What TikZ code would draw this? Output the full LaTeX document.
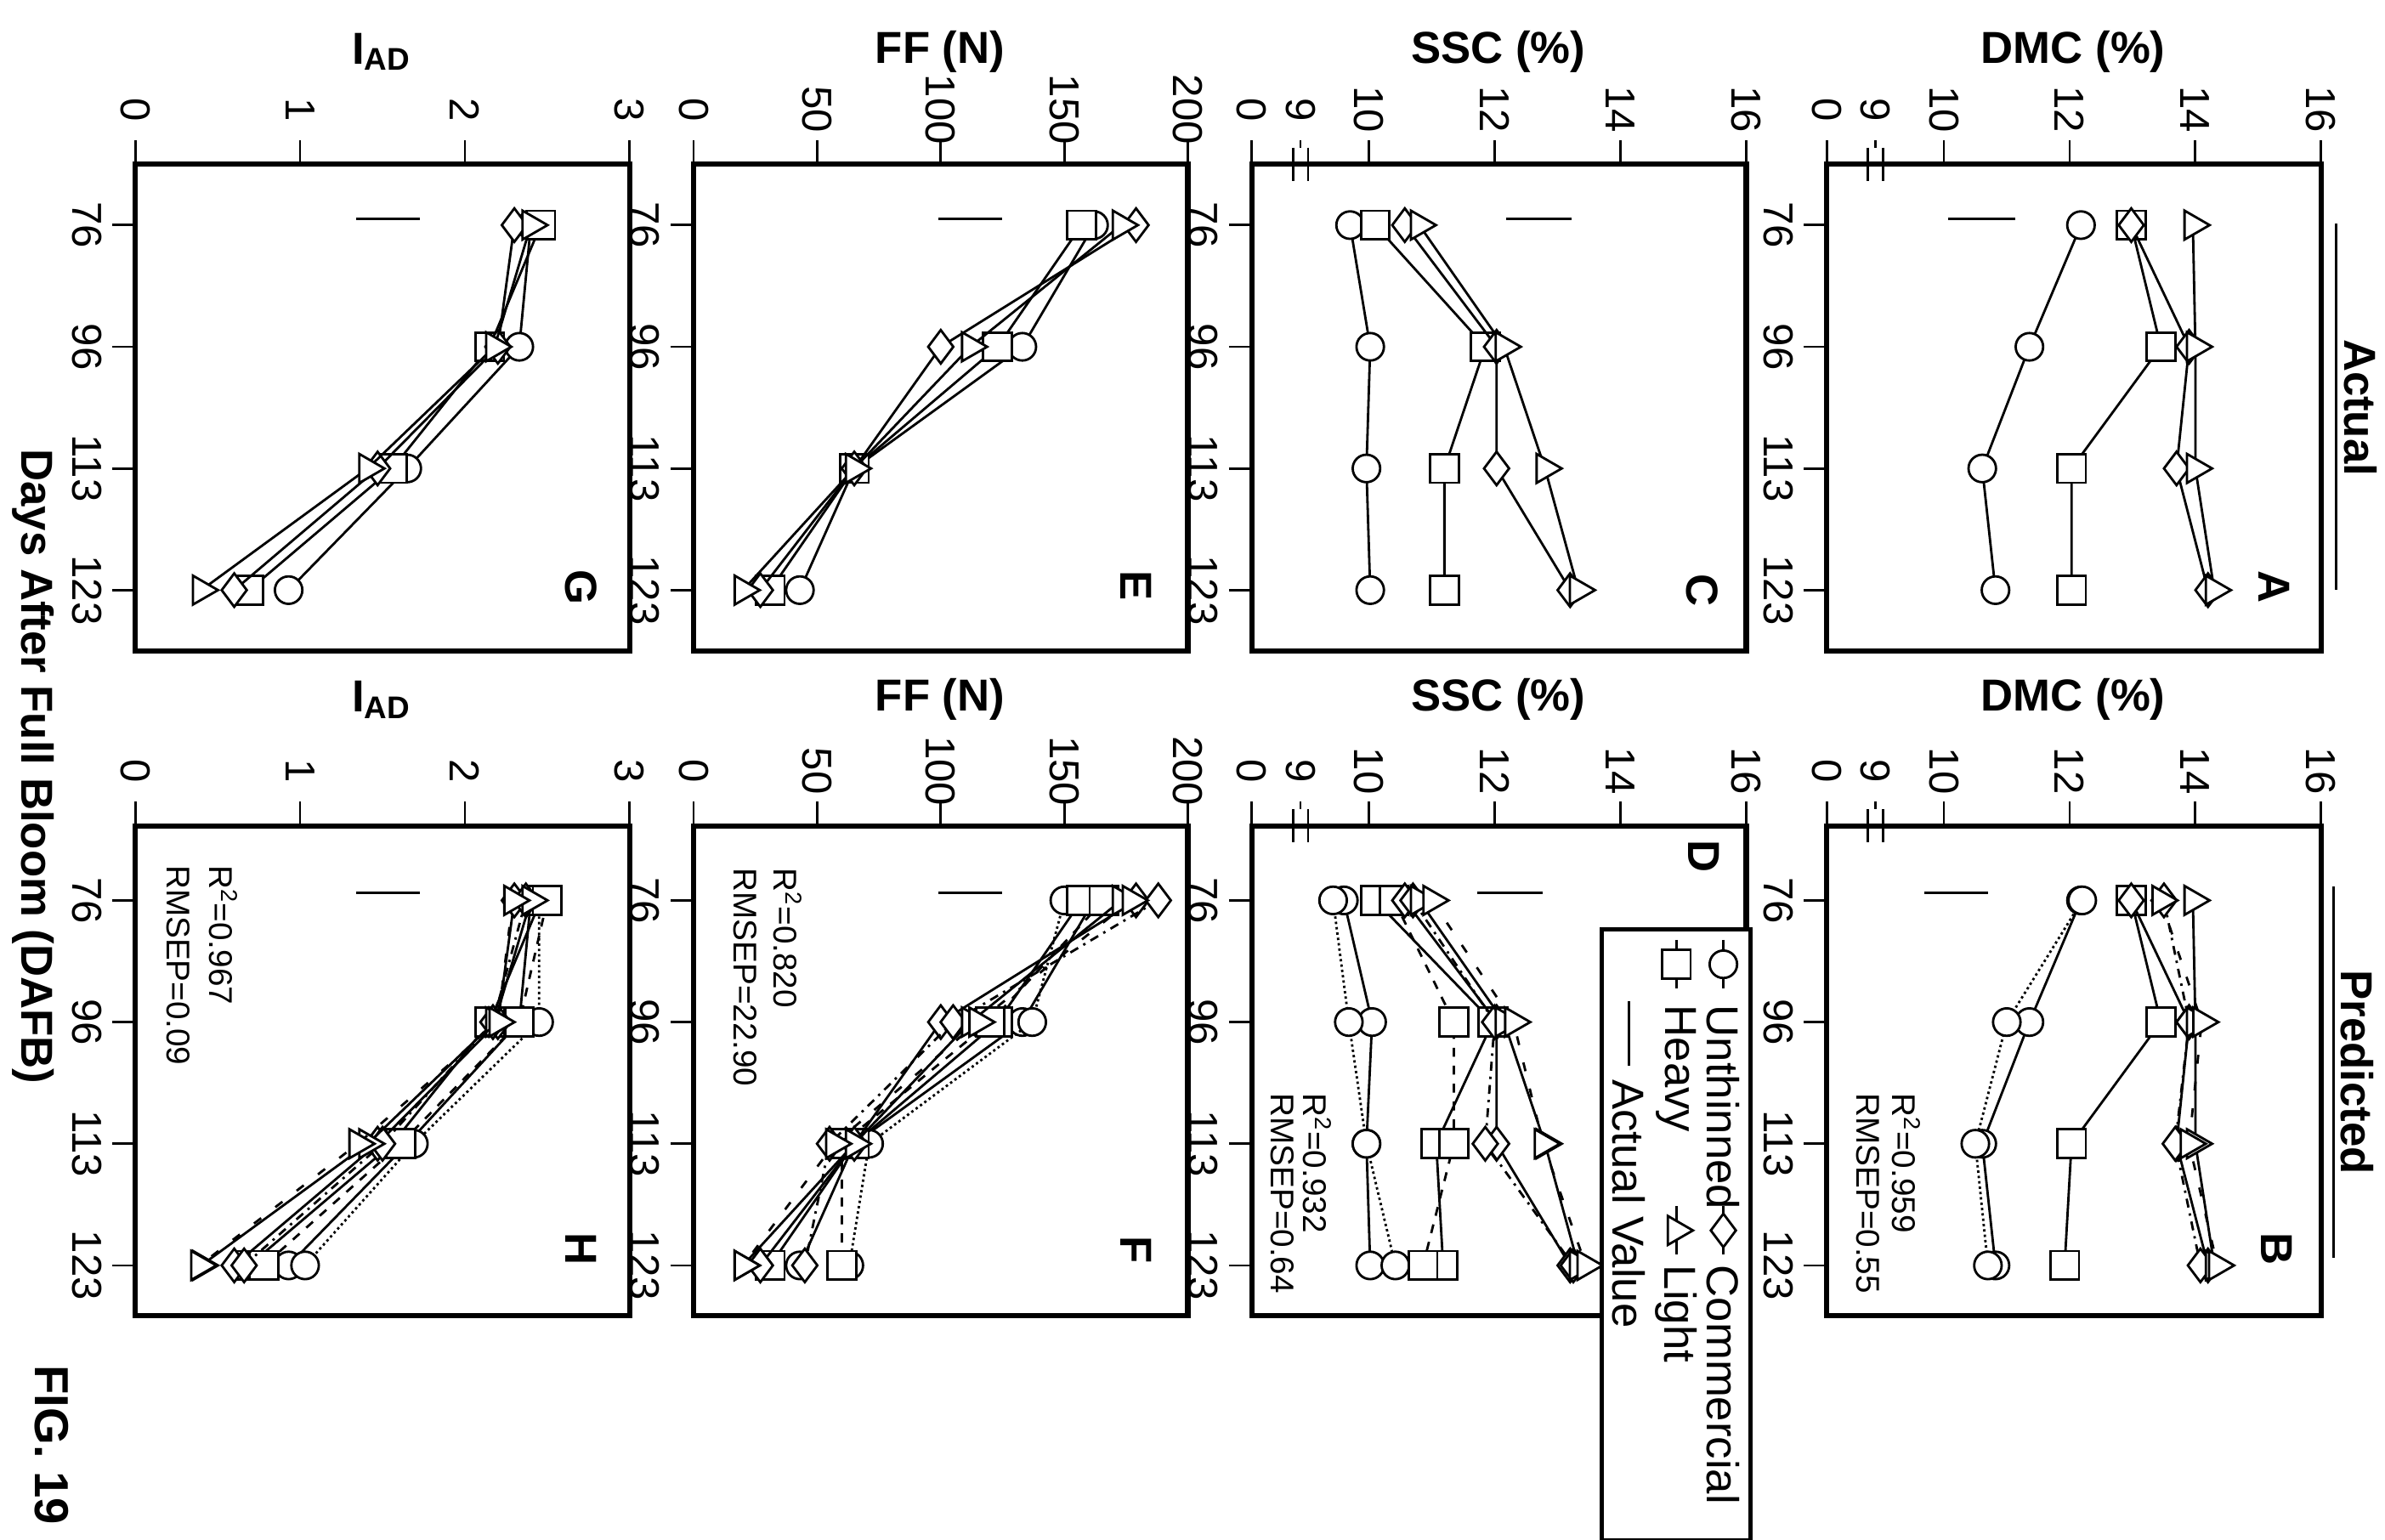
\documentclass[tikz,border=0pt]{standalone}
\usepackage{fontspec}
\setmainfont{Liberation Sans}
\usetikzlibrary{plotmarks}
\tikzset{
  frame/.style={line width=1.8pt},
  tl/.style={font=\fontsize{14}{16}\selectfont, rotate=-90},
  ttl/.style={font=\bfseries\fontsize{15}{17}\selectfont},
  rt/.style={font=\bfseries\fontsize{15}{17}\selectfont, rotate=-90},
  rr/.style={font=\fontsize{11}{13}\selectfont, rotate=-90, anchor=west},
  lg/.style={font=\fontsize{15}{17}\selectfont, rotate=-90, anchor=west},
  ln/.style={line width=0.8pt},
  mc/.style={mark=*, mark size=4.6pt, mark options={solid,fill=white,draw=black,line width=0.8pt}},
  ms/.style={mark=square*, mark size=4.8pt, mark options={solid,fill=white,draw=black,line width=0.8pt}},
  md/.style={mark=diamond*, mark size=5.6pt, mark options={solid,fill=white,draw=black,line width=0.8pt}},
  mt/.style={mark=triangle*, mark size=5.6pt, mark options={solid,fill=white,draw=black,line width=0.8pt,rotate=-90}},
}
\newcommand\ser[6]{\draw[ln,#1] plot[#2] coordinates {({\vmap{#3}},\ya) ({\vmap{#4}},\yb) ({\vmap{#5}},\yc) ({\vmap{#6}},\yd)};}
\newcommand\catticks{\foreach \yy/\lab in {\ya/76,\yb/96,\yc/113,\yd/123} {\draw[ln] (-15,\yy)--(0,\yy); \node[tl] at (-32,\yy) {\lab};}}
\newcommand\valticks[1]{\foreach \p/\lab in {#1} {\draw[ln] (\p,0)--(\p,-16); \node[tl] at (\p,-36) {\lab};}}
\newcommand\brk{\draw[ln] (32,-16)--(32,-11); \draw[ln] (27,-11)--(27,11); \draw[ln] (37,-11)--(37,11); \node[tl] at (32,-36) {9};}
\newcommand\actrow{\def\ya{40}\def\yb{120}\def\yc{200}\def\yd{280}\def\hh{320}}
\newcommand\prerow{\def\ya{49}\def\yb{129}\def\yc{209}\def\yd{289}\def\hh{322}}
\newcommand\dmcmap{\def\vmap##1{77+(##1-10)*41.333}}
\newcommand\ffmap{\def\vmap##1{(##1)*1.625}}
\newcommand\iadmap{\def\vmap##1{(##1)*108.33}}
\begin{document}
\begin{tikzpicture}[x=0.017896cm,y=-0.017896cm]
\useasboundingbox (0,0) rectangle (1568,1012);
% ---------- A ----------
\begin{scope}[shift={(1201,108)}]
\actrow\dmcmap
\draw[frame] (0,0) rectangle (325,\hh);
\catticks \valticks{0/0,77/10,159.7/12,242.3/14,325/16} \brk
\draw[ln] (80,36)--(124,36);
\ser{}{mc}{12.18}{11.36}{10.61}{10.82}
\ser{}{ms}{12.98}{13.45}{12.03}{12.03}
\ser{}{md}{12.98}{13.9}{13.7}{14.2}
\ser{}{mt}{13.96}{14.0}{14.0}{14.3}
\node[rt] (lA) at (294,278) {A};
\end{scope}
% ---------- B ----------
\begin{scope}[shift={(1201,543)}]
\prerow\dmcmap
\draw[frame] (0,0) rectangle (325,\hh);
\catticks \valticks{0/0,77/10,159.7/12,242.3/14,325/16} \brk
\draw[ln] (64,44)--(106,44);
\ser{}{mc}{12.18}{11.36}{10.61}{10.82}
\ser{densely dotted}{mc}{12.2}{11.0}{10.5}{10.7}
\ser{}{ms}{12.98}{13.45}{12.03}{11.92}
\ser{}{md}{12.98}{13.9}{13.7}{14.2}
\ser{dash dot}{md}{13.5}{13.9}{13.68}{14.08}
\ser{}{mt}{13.96}{14.0}{14.0}{14.3}
\ser{loosely dashed}{mt}{13.45}{14.1}{13.9}{14.35}
\node[rt] (lB) at (296,278) {B};
\node[rr] (rB1) at (52,169) {R\textsuperscript{2}=0.959};
\node[rr] (rB2) at (27,169) {RMSEP=0.55};
\end{scope}
% ---------- C ----------
\begin{scope}[shift={(823,108)}]
\actrow\dmcmap
\draw[frame] (0,0) rectangle (325,\hh);
\catticks \valticks{0/0,77/10,159.7/12,242.3/14,325/16} \brk
\draw[ln] (167,36)--(210,36);
\ser{}{mc}{9.7}{10.02}{9.96}{10.02}
\ser{}{ms}{10.1}{11.85}{11.2}{11.2}
\ser{}{md}{10.57}{12.03}{12.03}{13.2}
\ser{}{mt}{10.8}{12.15}{12.8}{13.33}
\node[rt] (lC) at (296,280) {C};
\end{scope}
% ---------- D ----------
\begin{scope}[shift={(823,543)}]
\prerow\dmcmap
\draw[frame] (0,0) rectangle (325,\hh);
\catticks \valticks{0/0,77/10,159.7/12,242.3/14,325/16} \brk
\draw[ln] (148,44)--(191,44);
\ser{}{mc}{9.6}{10.05}{9.96}{10.02}
\ser{densely dotted}{mc}{9.43}{9.68}{9.96}{10.42}
\ser{}{ms}{10.1}{11.97}{11.07}{11.18}
\ser{dashed}{ms}{10.4}{11.35}{11.35}{10.86}
\ser{}{md}{10.57}{12.03}{12.03}{13.2}
\ser{dash dot}{md}{10.7}{12.0}{11.85}{13.25}
\ser{}{mt}{10.8}{12.15}{12.8}{13.33}
\ser{loosely dashed}{mt}{11.0}{12.3}{12.77}{13.45}
\node[rt] (lD) at (297,20) {D};
\node[rr] (rD1) at (43,169) {R\textsuperscript{2}=0.932};
\node[rr] (rD2) at (20,169) {RMSEP=0.64};
\end{scope}
% ---------- E ----------
\begin{scope}[shift={(456,108)}]
\actrow\ffmap
\draw[frame] (0,0) rectangle (325,\hh);
\catticks \valticks{0/0,81.25/50,162.5/100,243.75/150,325/200}
\draw[ln] (161,36)--(203,36);
\ser{}{mc}{162}{133}{65}{43}
\ser{}{ms}{157}{123}{65}{31}
\ser{}{md}{179}{100}{65}{27}
\ser{}{mt}{173}{112}{65}{20}
\node[rt] (lE) at (291,277) {E};
\end{scope}
% ---------- F ----------
\begin{scope}[shift={(456,543)}]
\prerow\ffmap
\draw[frame] (0,0) rectangle (325,\hh);
\catticks \valticks{0/0,81.25/50,162.5/100,243.75/150,325/200}
\draw[ln] (161,44)--(203,44);
\ser{}{mc}{162}{133}{65}{43}
\ser{densely dotted}{mc}{150}{137}{71}{63}
\ser{}{ms}{157}{123}{65}{31}
\ser{dashed}{ms}{166}{120}{60}{60}
\ser{}{md}{179}{100}{65}{27}
\ser{dash dot}{md}{188}{105}{55}{45}
\ser{}{mt}{173}{112}{65}{20}
\ser{loosely dashed}{mt}{177}{115}{57}{20}
\node[rt] (lF) at (291,279) {F};
\node[rr] (rF1) at (62,21) {R\textsuperscript{2}=0.820};
\node[rr] (rF2) at (34,21) {RMSEP=22.90};
\end{scope}
% ---------- G ----------
\begin{scope}[shift={(89,108)}]
\actrow\iadmap
\draw[frame] (0,0) rectangle (325,\hh);
\catticks \valticks{0/0,108.3/1,216.7/2,325/3}
\draw[ln] (145,36)--(187,36);
\ser{}{mc}{2.4}{2.33}{1.65}{0.93}
\ser{}{ms}{2.46}{2.15}{1.56}{0.69}
\ser{}{md}{2.3}{2.2}{1.47}{0.6}
\ser{}{mt}{2.4}{2.18}{1.41}{0.4}
\node[rt] (lG) at (293,278) {G};
\end{scope}
% ---------- H ----------
\begin{scope}[shift={(89,543)}]
\prerow\iadmap
\draw[frame] (0,0) rectangle (325,\hh);
\catticks \valticks{0/0,108.3/1,216.7/2,325/3}
\draw[ln] (145,44)--(187,44);
\ser{}{mc}{2.4}{2.33}{1.65}{0.93}
\ser{densely dotted}{mc}{2.45}{2.45}{1.69}{1.03}
\ser{}{ms}{2.46}{2.15}{1.56}{0.69}
\ser{dashed}{ms}{2.5}{2.33}{1.61}{0.78}
\ser{}{md}{2.3}{2.2}{1.47}{0.6}
\ser{dash dot}{md}{2.37}{2.17}{1.5}{0.66}
\ser{}{mt}{2.4}{2.18}{1.41}{0.4}
\ser{loosely dashed}{mt}{2.29}{2.2}{1.35}{0.39}
\node[rt] (lH) at (293,278) {H};
\node[rr] (rH1) at (58,19) {R\textsuperscript{2}=0.967};
\node[rr] (rH2) at (28,19) {RMSEP=0.09};
\end{scope}
% ---------- axis titles ----------
\foreach \yy/\nm in {34/a,460/p} {
  \node[ttl] (dmc\nm) at (1363,\yy) {DMC (\%)};
  \node[ttl] (ssc\nm) at (985,\yy) {SSC (\%)};
  \node[ttl] (ff\nm) at (618,\yy) {FF (N)};
  \node[ttl] (iad\nm) at (251,\yy) {I\textsubscript{AD}};
}
% ---------- column headers ----------
\node[rt] (hact) at (1552,268) {Actual};
\draw[ln] (1536,147)--(1536,388);
\node[rt] (hpre) at (1550,705) {Predicted};
\draw[ln] (1534,583)--(1534,827);
\node[rt] (xlab) at (22,504) {Days After Full Bloom (DAFB)};
\node[rt, font=\bfseries\fontsize{16}{18}\selectfont] (fig) at (34,950) {FIG. 19};
% ---------- legend ----------
\draw[line width=1.5pt, fill=white] (1053,611) rectangle (1151,1013);
\draw[ln] (1133,618)--(1133,650);
\path plot[mc] coordinates {(1133,634)};
\node[lg] (lg1) at (1133,654) {Unthinned};
\draw[ln] (1133,793)--(1133,825);
\path plot[md] coordinates {(1133,809)};
\node[lg] (lg2) at (1133,825) {Commercial};
\draw[ln] (1102,618)--(1102,650);
\path plot[ms] coordinates {(1102,634)};
\node[lg] (lg3) at (1102,654) {Heavy};
\draw[ln] (1102,793)--(1102,825);
\path plot[mt] coordinates {(1102,809)};
\node[lg] (lg4) at (1102,825) {Light};
\draw[ln] (1071,658)--(1071,701);
\node[lg] (lg5) at (1071,703) {Actual Value};
\end{tikzpicture}
\end{document}
